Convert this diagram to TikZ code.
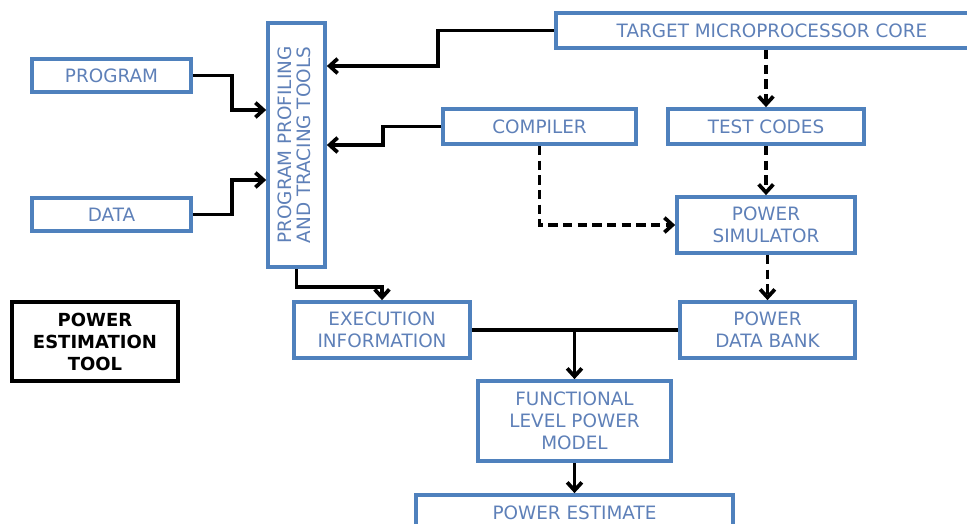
\documentclass[tikz,border=0pt]{standalone}
\usepackage{fontspec}
\usepackage{graphicx}
\setmainfont{DejaVu Sans}
\usetikzlibrary{arrows.meta, positioning, calc}
\definecolor{Box_Blue}{HTML}{4F81BD}
\definecolor{Text_Blue}{HTML}{5E80B8}

\tikzset{
  blk/.style={draw=Box_Blue, line width=2.8pt, text=Text_Blue, align=center,
    inner sep=0pt, font=\fontsize{13.8}{16.5}\selectfont},
  toolbox/.style={draw=black, line width=2.8pt, text=black, align=center,
    inner sep=0pt, font=\fontsize{13.5}{16.5}\selectfont\bfseries},
  line/.style={draw=black, line width=2.8pt, -{Straight Barb[length=6pt,width=11pt]}},
  dline/.style={line, dash pattern=on 7pt off 4pt}
}

\begin{document}
\begin{tikzpicture}[x=0.75pt, y=-0.75pt]
\useasboundingbox (0,0) rectangle (967,524);
\clip (0,0) rectangle (967,524);
% --- Inputs ---
\node[blk, minimum width=119.25pt, minimum height=24.75pt] (prog) at (111.5,75.5) {PROGRAM};
\node[blk, minimum width=119.25pt, minimum height=24.75pt] (data) at (111.5,214.5) {DATA};
\node[blk, minimum width=42.75pt, minimum height=183pt] (prof) at (296.5,145)
  {\rotatebox{90}{\begin{tabular}{@{}c@{}}PROGRAM PROFILING\\[-2pt]AND TRACING TOOLS\end{tabular}}};
\node[toolbox, minimum width=124.5pt, minimum height=59.25pt] (tool) at (95,341.5) {POWER\\ESTIMATION\\TOOL};
% --- Right column ---
\node[blk, minimum width=324pt, minimum height=26.25pt] (tgt) at (772,30.5) {TARGET MICROPROCESSOR CORE};
\node[blk, minimum width=144.75pt, minimum height=26.25pt] (comp) at (539.5,126.5) {COMPILER};
\node[blk, minimum width=147pt, minimum height=26.25pt] (test) at (766,126.5) {TEST CODES};
\node[blk, minimum width=133.5pt, minimum height=42pt] (sim) at (766,225) {POWER\\SIMULATOR};
\node[blk, minimum width=131.25pt, minimum height=42pt] (bank) at (767.5,330) {POWER\\DATA BANK};
\node[blk, minimum width=132pt, minimum height=42pt] (exec) at (382,330) {EXECUTION\\INFORMATION};
\node[blk, minimum width=144.75pt, minimum height=60pt] (func) at (574.5,421) {FUNCTIONAL\\LEVEL POWER\\MODEL};
\node[blk, minimum width=237.75pt, minimum height=27pt] (est) at (574.5,513) {POWER ESTIMATE};
% --- Solid connectors ---
\draw[line] (prog.east) -- ++(29.25pt,0) |- ([yshift=26.25pt]prof.west);
\draw[line] (data.east) -- ++(29.25pt,0) |- ([yshift=-26.25pt]prof.west);
\draw[line] (tgt.west) -- ++(-87pt,0) |- ([yshift=59.25pt]prof.east);
\draw[line] (comp.west) -- ++(-43.5pt,0) |- (prof.east);
\draw[line] (prof.south) -- ++(0,-13.5pt) -| (exec.north);
\draw[line width=2.8pt] (exec.east) -- (bank.west);
\draw[line] (exec.east -| func.north) -- (func.north);
\draw[line] (func.south) -- (est.north);
% --- Dashed connectors ---
\draw[dline] (tgt.south -| test.north) -- (test.north);
\draw[dline] (test.south) -- (sim.north);
\draw[dline] (comp.south) |- (sim.west);
\draw[dline] (sim.south -| bank.north) -- (bank.north);
\end{tikzpicture}
\end{document}
